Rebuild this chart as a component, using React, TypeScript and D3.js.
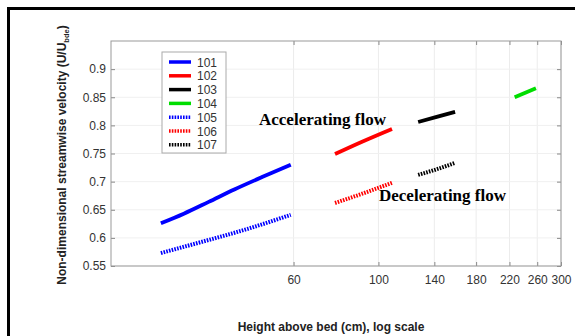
import React, { useEffect, useRef } from 'react'
import * as d3 from 'd3'

// series: heights (cm) and non-dimensional velocity
const seriesNames = ['101', '102', '103', '104', '105', '106', '107']
const seriesColors = ['#0000ff', '#ff0000', '#000000', '#00dd00', '#0000ff', '#ff0000', '#000000']
const seriesDotted = [false, false, false, false, true, true, true]

const h101 = [27, 31, 36, 42, 50, 59]
const u101 = [0.626, 0.643, 0.664, 0.686, 0.709, 0.730]
const h102 = [77, 90, 108.5]
const u102 = [0.749, 0.770, 0.7936]
const h103 = [127, 142, 158.6]
const u103 = [0.806, 0.815, 0.824]
const h104 = [227, 242, 258]
const u104 = [0.850, 0.858, 0.866]
const h105 = [27, 35, 45, 59]
const u105 = [0.573, 0.594, 0.615, 0.641]
const h106 = [77, 92, 108.5]
const u106 = [0.662, 0.680, 0.698]
const h107 = [127, 142, 158]
const u107 = [0.712, 0.722, 0.733]

const heights = [h101, h102, h103, h104, h105, h106, h107]
const velocities = [u101, u102, u103, u104, u105, u106, u107]

const xTicks = [60, 100, 140, 180, 220, 260, 300]
const yTicks = [0.55, 0.6, 0.65, 0.7, 0.75, 0.8, 0.85, 0.9]

export default function App() {
  const svgRef = useRef<SVGSVGElement>(null)

  useEffect(() => {
    if (!svgRef.current) return
    const width = 575
    const height = 336
    d3.select(svgRef.current).selectAll('*').remove()

    const margin = { top: 41, right: 14, bottom: 70, left: 111 }
    const innerWidth = width - margin.left - margin.right
    const innerHeight = height - margin.top - margin.bottom

    const svg = d3.select(svgRef.current)
      .attr('width', width)
      .attr('height', height)

    svg.append('rect').attr('width', width).attr('height', height).attr('fill', '#fff')

    // outer black frame (left and top only)
    svg.append('path')
      .attr('d', `M8.5,${height} V8.5 H${width}`)
      .attr('fill', 'none')
      .attr('stroke', '#000')
      .attr('stroke-width', 3)

    const g = svg.append('g').attr('transform', `translate(${margin.left},${margin.top})`)

    const xScale = d3.scaleLog().domain([20, 300]).range([0, innerWidth])
    const yScale = d3.scaleLinear().domain([0.55, 0.95]).range([innerHeight, 0])

    // grid
    g.selectAll('.vgrid').data(xTicks).enter().append('line')
      .attr('x1', d => xScale(d)).attr('x2', d => xScale(d))
      .attr('y1', 0).attr('y2', innerHeight)
      .attr('stroke', '#ececec').attr('stroke-width', 1)
    g.selectAll('.hgrid').data(yTicks).enter().append('line')
      .attr('x1', 0).attr('x2', innerWidth)
      .attr('y1', d => yScale(d)).attr('y2', d => yScale(d))
      .attr('stroke', '#f0f0f0').attr('stroke-width', 1)

    // axes
    const xAxis = d3.axisBottom(xScale).tickValues(xTicks).tickFormat(d => `${d}`).tickSize(-4).tickPadding(9)
    const xTop = d3.axisTop(xScale).tickValues(xTicks).tickFormat(() => '').tickSize(-4)
    const yAxis = d3.axisLeft(yScale).tickValues(yTicks).tickFormat(d => `${d}`).tickSize(-4).tickPadding(5)
    const yRight = d3.axisRight(yScale).tickValues(yTicks).tickFormat(() => '').tickSize(-4)

    const styleAxis = (sel: any) => {
      sel.select('.domain').remove()
      sel.selectAll('line').attr('stroke', '#888')
      sel.selectAll('text').attr('fill', '#333').attr('font-size', 12)
        .attr('font-family', 'Liberation Sans, Arial, sans-serif')
    }
    g.append('g').attr('transform', `translate(0,${innerHeight})`).call(xAxis).call(styleAxis)
    g.append('g').call(xTop).call(styleAxis)
    g.append('g').call(yAxis).call(styleAxis)
    g.append('g').attr('transform', `translate(${innerWidth},0)`).call(yRight).call(styleAxis)

    g.append('rect')
      .attr('width', innerWidth).attr('height', innerHeight)
      .attr('fill', 'none').attr('stroke', '#999').attr('stroke-width', 1)

    // series
    const line = d3.line<[number, number]>()
      .x(d => xScale(d[0]))
      .y(d => yScale(d[1]))
      .curve(d3.curveMonotoneX)

    heights.forEach((hs, i) => {
      g.append('path')
        .datum(hs.map((h, j) => [h, velocities[i][j]] as [number, number]))
        .attr('fill', 'none')
        .attr('stroke', seriesColors[i])
        .attr('stroke-width', seriesDotted[i] ? 4 : 3.8)
        .attr('stroke-dasharray', seriesDotted[i] ? '1.6 1.2' : null)
        .attr('d', line)
    })

    // legend
    const legend = g.append('g').attr('transform', `translate(${162 - margin.left},${52 - margin.top})`)
    legend.append('rect')
      .attr('width', 64).attr('height', 101)
      .attr('fill', '#fff').attr('stroke', '#aaa').attr('stroke-width', 1)
    seriesNames.forEach((name, i) => {
      const y = 10 + i * 13.8
      legend.append('line')
        .attr('x1', 7).attr('x2', 29).attr('y1', y).attr('y2', y)
        .attr('stroke', seriesColors[i])
        .attr('stroke-width', 3.5)
        .attr('stroke-dasharray', seriesDotted[i] ? '1.6 1.2' : null)
      legend.append('text')
        .attr('x', 35).attr('y', y + 4.5)
        .attr('font-size', 12).attr('fill', '#333')
        .attr('font-family', 'Liberation Sans, Arial, sans-serif')
        .text(name)
    })

    // annotations
    svg.append('text')
      .attr('x', 259).attr('y', 125)
      .attr('font-family', 'Liberation Serif, Times New Roman, serif')
      .attr('font-weight', 'bold').attr('font-size', 17)
      .text('Accelerating flow')
    svg.append('text')
      .attr('x', 379).attr('y', 201)
      .attr('font-family', 'Liberation Serif, Times New Roman, serif')
      .attr('font-weight', 'bold').attr('font-size', 17)
      .text('Decelerating flow')

    // axis labels
    svg.append('text')
      .attr('x', 331).attr('y', 331)
      .attr('text-anchor', 'middle')
      .attr('font-family', 'Liberation Sans, Arial, sans-serif')
      .attr('font-weight', 'bold').attr('font-size', 12).attr('fill', '#222')
      .text('Height above bed (cm), log scale')

    const yl = svg.append('text')
      .attr('transform', `translate(66,155) rotate(-90)`)
      .attr('text-anchor', 'middle')
      .attr('font-family', 'Liberation Sans, Arial, sans-serif')
      .attr('font-weight', 'bold').attr('font-size', 12).attr('fill', '#222')
    yl.append('tspan').text('Non-dimensional streamwise velocity (U/U')
    yl.append('tspan').attr('font-size', 7.5).attr('dy', 3).text('bde')
    yl.append('tspan').attr('dy', -3).text(')')
  }, [])

  return <svg ref={svgRef} style={{ position: 'absolute', left: 0, top: 0 }} />
}
